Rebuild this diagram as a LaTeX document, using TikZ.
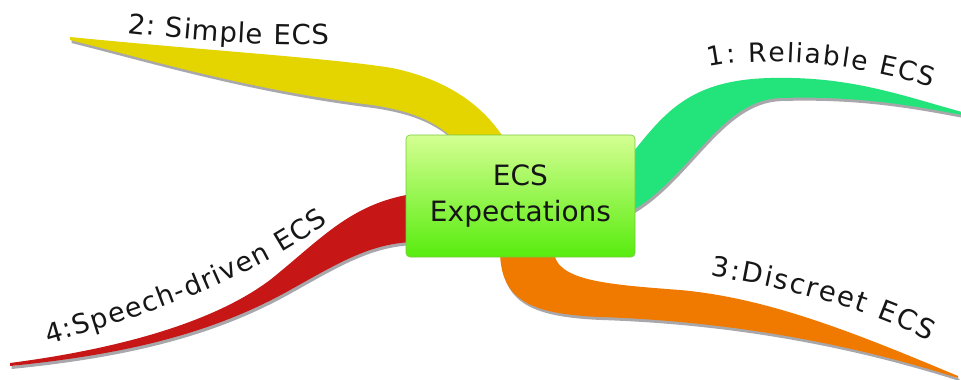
\documentclass[tikz,border=0pt]{standalone}
\usepackage{fontspec}
\setmainfont{DejaVu Sans}
\usetikzlibrary{decorations.text}

\definecolor{ink}{RGB}{22,22,22}
\definecolor{yellowbranch}{RGB}{228,212,0}
\definecolor{greenbranch}{RGB}{34,228,122}
\definecolor{orangebranch}{RGB}{240,122,0}
\definecolor{redbranch}{RGB}{198,22,22}
\definecolor{boxtop}{RGB}{212,255,146}
\definecolor{boxbottom}{RGB}{88,236,14}
\definecolor{boxrim}{RGB}{120,200,60}
\definecolor{branchshade}{RGB}{168,168,172}

\newcommand\lblone{\fontsize{26.5}{30}\selectfont\color{ink}}
\newcommand\lbltwo{\fontsize{27.5}{32}\selectfont\color{ink}}
\newcommand\lblthree{\fontsize{27.5}{32}\selectfont\color{ink}}
\newcommand\lblfour{\fontsize{27}{32}\selectfont\color{ink}}

\tikzset{
  branchshadow/.style={fill=branchshade, shift={(1.5,3)}},
  centrebox/.style={draw=boxrim, line width=0.6pt, rounded corners=4pt,
    top color=boxtop, bottom color=boxbottom,
    minimum width=229pt, minimum height=122pt, align=center,
    font=\fontsize{28}{36}\selectfont, text=ink},
  branchlabel/.style={decorate, decoration={text along path, text align={fit to path}}}
}

\begin{document}
\begin{tikzpicture}[x=1pt, y=-1pt]
  \useasboundingbox (0,0) rectangle (961,380);
  \fill[white] (0,0) rectangle (961,380);

  % branch outlines, each used for its shadow and its fill
  \def\yellowpath{(70,37) .. controls (200,50) and (330,58) .. (392,68)
      .. controls (440,78) and (480,100) .. (505,140) -- (455,140)
      .. controls (432,118) and (405,110) .. (372,105)
      .. controls (250,90) and (150,60) .. (70,40) -- cycle}
  \def\greenpath{(630,156) .. controls (665,112) and (690,80) .. (770,78)
      .. controls (850,76) and (900,95) .. (962,112) -- (962,115)
      .. controls (900,103) and (850,96) .. (780,98)
      .. controls (720,100) and (690,178) .. (630,212) -- cycle}
  \def\orangepath{(500,250) .. controls (500,300) and (530,314) .. (600,317)
      .. controls (750,322) and (870,350) .. (958,378) -- (958,376)
      .. controls (860,335) and (770,298) .. (680,290)
      .. controls (600,284) and (556,280) .. (553,250) -- cycle}
  \def\redpath{(412,194) .. controls (350,204) and (320,240) .. (270,280)
      .. controls (210,325) and (110,350) .. (10,363) -- (10,366)
      .. controls (120,355) and (210,335) .. (290,290)
      .. controls (340,262) and (370,244) .. (412,242) -- cycle}

  % shadows
  \fill[branchshadow] \yellowpath;
  \fill[branchshadow] \greenpath;
  \fill[branchshadow] \orangepath;
  \fill[branchshadow] \redpath;

  % branches
  \fill[yellowbranch] \yellowpath;
  \fill[greenbranch] \greenpath;
  \fill[orangebranch] \orangepath;
  \fill[redbranch] \redpath;

  % central topic
  \node[centrebox] (core) at (520.5,196) {ECS\\Expectations};

  % branch labels
  \path[branchlabel, decoration={text={|\lblone|1: Reliable ECS}}]
    (709,67) .. controls (750,58) and (840,58) .. (932,87);
  \path[branchlabel, decoration={text={|\lbltwo|2: Simple ECS}}]
    (127,33) .. controls (190,40) and (260,46) .. (329,44);
  \path[branchlabel, decoration={text={|\lblthree|3:Discreet ECS}}]
    (710,276) .. controls (790,288) and (870,310) .. (929,341);
  \path[branchlabel, decoration={text={|\lblfour|4:Speech-driven ECS}}]
    (48,344) .. controls (150,315) and (260,275) .. (328,222);
\end{tikzpicture}
\end{document}
